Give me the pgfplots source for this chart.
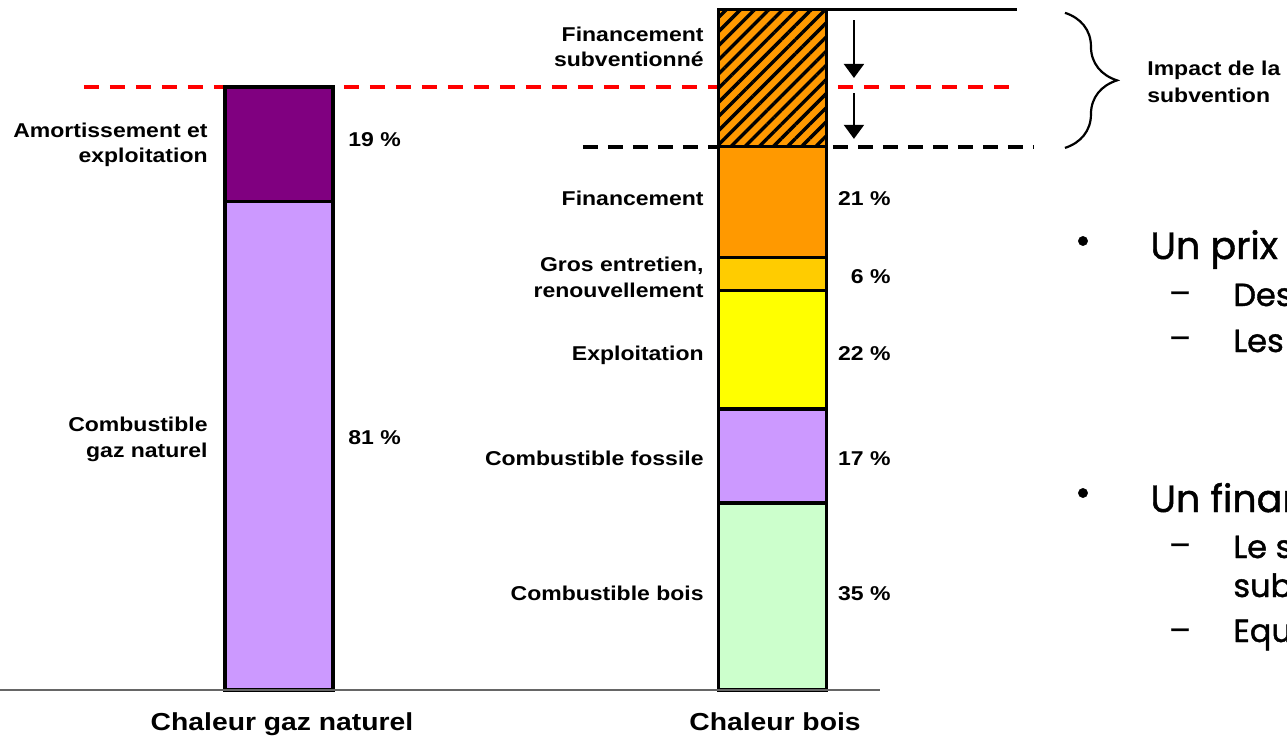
\documentclass[border=0pt]{standalone}
\usepackage{pgfplots}
\pgfplotsset{compat=1.18}
\usepackage{fontspec}
\setmainfont{Liberation Sans}
\newfontfamily\lab{Liberation Sans}[FakeStretch=1.15]
\newfontfamily\comic{Poppins}[FakeBold=1.2]
\usetikzlibrary{patterns.meta,arrows.meta,decorations.pathreplacing}
\definecolor{gaslav}{HTML}{CC99FF}
\definecolor{amort}{HTML}{800080}
\definecolor{bois}{HTML}{CCFFCC}
\definecolor{expl}{HTML}{FFFF00}
\definecolor{gros}{HTML}{FFCC00}
\definecolor{fin}{HTML}{FF9900}
\begin{document}
\begin{tikzpicture}
\useasboundingbox (0,0) rectangle (643.5pt,368pt);
\clip (0,0) rectangle (643.5pt,368pt);
\begin{axis}[scale only axis, width=643.5pt, height=368pt,
  xmin=-0.5653, xmax=2.0426, ymin=-7.628, ymax=114.428,
  hide axis, clip=false, ybar stacked, bar width=0.2188,
  every axis plot/.append style={draw=black, line width=1.6pt}]
\draw[black!60, line width=1pt] (axis cs:-0.5653,0) -- (axis cs:1.2178,0);
% Chaleur gaz naturel (bottom to top)
\addplot[fill=gaslav] coordinates {(0,81) (1,0)};
\addplot[fill=amort] coordinates {(0,19) (1,0)};
% Chaleur bois (bottom to top)
\addplot[fill=bois] coordinates {(0,0) (1,31.0)};
\addplot[fill=gaslav] coordinates {(0,0) (1,15.6)};
\addplot[fill=expl] coordinates {(0,0) (1,19.6)};
\addplot[fill=gros] coordinates {(0,0) (1,5.5)};
\addplot[fill=fin] coordinates {(0,0) (1,18.4)};
\addplot[preaction={fill=fin}, pattern={Lines[angle=45,distance=5pt,line width=1.7pt]}, pattern color=black] coordinates {(0,0) (1,22.8)};
% reference lines
\draw[red, line width=2pt, dash pattern=on 7.5pt off 5.5pt] (axis cs:-0.3951,100) -- (axis cs:1.4955,100);
\draw[black, line width=2pt, dash pattern=on 7.5pt off 5pt] (axis cs:0.616,90.1) -- (axis cs:1.528,90.1);
\draw[black, line width=1.6pt] (axis cs:1.1104,112.9) -- (axis cs:1.4955,112.9);
\draw[-{Triangle[width=10pt,length=7pt]}, line width=1pt] (axis cs:1.1651,111.1) -- (axis cs:1.1651,101.5);
\draw[-{Triangle[width=10pt,length=7pt]}, line width=1pt] (axis cs:1.1651,99.0) -- (axis cs:1.1651,91.4);
\draw[decorate, decoration={brace, amplitude=26pt}, line width=1.1pt] (axis cs:1.5927,112.3) -- (axis cs:1.5927,89.9);
\end{axis}
\begin{scope}[shift={(0pt,368pt)}, x=0.5pt, y=-0.5pt,
  every node/.style={inner sep=0pt, font={\lab\bfseries\fontsize{10pt}{12.5pt}\selectfont}}]
\node[anchor=base east] at (208,137) {Amortissement et};
\node[anchor=base east] at (208,162) {exploitation};
\node[anchor=base west] at (348,146) {19 \%};
\node[anchor=base east] at (208,431) {Combustible};
\node[anchor=base east] at (208,457) {gaz naturel};
\node[anchor=base west] at (348,444) {81 \%};
\node[anchor=base east] at (704,41) {Financement};
\node[anchor=base east] at (704,66) {subventionné};
\node[anchor=base east] at (704,205) {Financement};
\node[anchor=base east] at (704,271) {Gros entretien,};
\node[anchor=base east] at (704,297) {renouvellement};
\node[anchor=base east] at (704,360) {Exploitation};
\node[anchor=base east] at (704,465) {Combustible fossile};
\node[anchor=base east] at (704,600) {Combustible bois};
\node[anchor=base east] at (891,205) {21 \%};
\node[anchor=base east] at (891,283) {6 \%};
\node[anchor=base east] at (891,360) {22 \%};
\node[anchor=base east] at (891,465) {17 \%};
\node[anchor=base east] at (891,600) {35 \%};
\node[anchor=base west] at (1147,75) {Impact de la};
\node[anchor=base west] at (1147,102) {subvention};
\node[anchor=base, font={\lab\bfseries\fontsize{12.3pt}{14pt}\selectfont}] at (282,730) {Chaleur gaz naturel};
\node[anchor=base, font={\lab\bfseries\fontsize{12.3pt}{14pt}\selectfont}] at (775,730) {Chaleur bois};
% bullet text on the right
\begin{scope}[every node/.style={inner sep=0pt, font={\comic\fontsize{19pt}{22pt}\selectfont}}]
\node at (1083,245) {•};
\node[anchor=base west] at (1150,259) {Un prix};
\node at (1083,497) {•};
\node[anchor=base west] at (1150,512) {Un financement};
\end{scope}
\begin{scope}[every node/.style={inner sep=0pt, font={\comic\fontsize{16pt}{19pt}\selectfont}}]
\node at (1180,298) {–};
\node[anchor=base west] at (1233,306) {Des};
\node at (1180,343) {–};
\node[anchor=base west] at (1233,352) {Les};
\node at (1180,550) {–};
\node[anchor=base west] at (1233,558) {Le s};
\node[anchor=base west] at (1233,597) {subv};
\node at (1180,635) {–};
\node[anchor=base west] at (1233,642) {Equ};
\end{scope}
\end{scope}
\end{tikzpicture}
\end{document}
